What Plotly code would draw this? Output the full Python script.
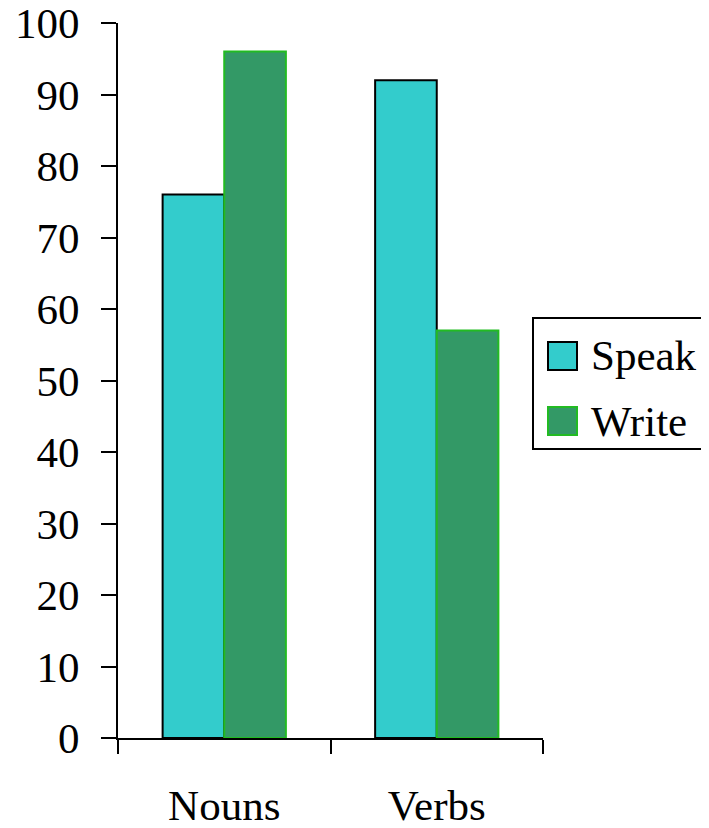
import plotly.graph_objects as go

categories = ["Nouns", "Verbs"]
series_names = ["Speak", "Write"]
speak_values = [76, 92]
write_values = [96, 57]
fill_colors = ["#33CCCC", "#339966"]
line_colors = ["#000000", "#22BB22"]
y_ticks = [0, 10, 20, 30, 40, 50, 60, 70, 80, 90, 100]

FONT = "Liberation Serif, Times New Roman, serif"
OFF = 8  # page body margin
W, H = 709 - OFF, 828 - OFF
L, R, T, B = 118 - OFF, 543 - OFF, 23 - OFF, 738 - OFF

fig = go.Figure()
for name, vals, fc, lc in zip(series_names, [speak_values, write_values], fill_colors, line_colors):
    fig.add_trace(go.Bar(
        x=categories, y=vals, name=name,
        marker=dict(color=fc, line=dict(color=lc, width=2)),
        showlegend=False,
    ))

fig.update_layout(
    width=W, height=H,
    margin=dict(l=L, r=W - R, t=T, b=H - B, pad=0, autoexpand=False),
    paper_bgcolor="white", plot_bgcolor="white",
    barmode="group", bargap=0.42, bargroupgap=0,
    font=dict(family=FONT, size=43, color="black"),
    xaxis=dict(
        automargin=False,
        showline=True, linecolor="black", linewidth=2,
        ticks="outside", ticklen=14, tickwidth=2, tickcolor="black",
        tickson="boundaries", showgrid=False,
        ticklabelstandoff=28, ticklabeloverflow="allow",
        tickfont=dict(family=FONT, size=43, color="black"),
    ),
    yaxis=dict(
        automargin=False,
        range=[0, 100], tickvals=y_ticks,
        showline=True, linecolor="black", linewidth=2,
        ticks="outside", ticklen=15, tickwidth=2, tickcolor="black",
        showgrid=False, zeroline=False,
        ticklabelstandoff=13, ticklabeloverflow="allow",
        tickfont=dict(family=FONT, size=43, color="black"),
    ),
)

# manual legend (paper coordinates derived from pixel layout)
def px(x):
    return (x - OFF - L) / (R - L)

def py(y):
    return (B - (y - OFF)) / (B - T)

shapes = [dict(type="rect", xref="paper", yref="paper",
               x0=px(533), x1=px(716), y0=py(449), y1=py(318),
               line=dict(color="black", width=2), fillcolor="white", layer="below")]
annotations = []
rows = [356, 421]
for name, fc, lc, yc in zip(series_names, fill_colors, line_colors, rows):
    shapes.append(dict(type="rect", xref="paper", yref="paper",
                       x0=px(548), x1=px(577), y0=py(yc + 14), y1=py(yc - 14),
                       line=dict(color=lc, width=2), fillcolor=fc))
    annotations.append(dict(xref="paper", yref="paper", x=px(589), y=py(yc),
                            xanchor="left", yanchor="middle", showarrow=False,
                            text=name, font=dict(family=FONT, size=43, color="black")))
fig.update_layout(shapes=shapes, annotations=annotations)

fig.write_html("out.html")
